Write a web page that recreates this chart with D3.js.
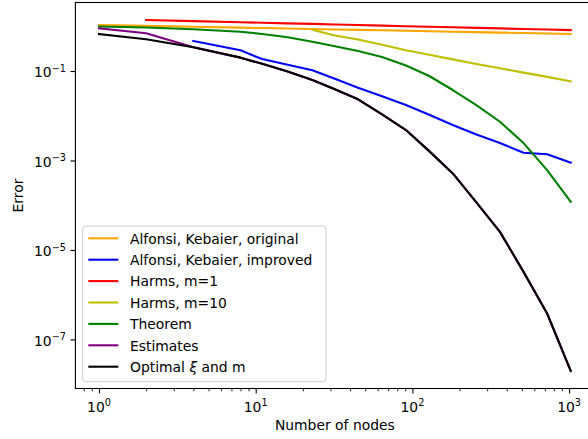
<!DOCTYPE html>
<html>
<head>
<meta charset="utf-8">
<style>
body { margin: 0; background: white; }
text { font-family: "DejaVu Sans", sans-serif; fill: black; }
.series { fill: none; stroke-width: 2.1px; stroke-linejoin: round; stroke-linecap: square; }
</style>
</head>
<body>
<script src="https://cdn.jsdelivr.net/npm/d3@7"></script>
<script>
// number of nodes (shared x grid), null = no point for that series
var nodes = [1, 2, 4, 8, 11, 16, 23, 32, 45, 64, 91, 128, 181, 256, 362, 512, 724, 1024];

var akOriginal = [1.07, 1.02, 0.976, 0.932, 0.913, 0.89, 0.869, 0.85, 0.831, 0.812, 0.793, 0.775, 0.757, 0.74, 0.723, 0.707, 0.69, 0.675];
var akImproved = [null, null, 0.469, 0.29, 0.185, 0.138, 0.104, 0.067, 0.0423, 0.0273, 0.0174, 0.0105, 0.0062, 0.0038, 0.00246, 0.00149, 0.00138, 0.00089];
var harms1 = [null, 1.38, 1.303, 1.23, 1.2, 1.161, 1.13, 1.096, 1.065, 1.035, 1.005, 0.977, 0.95, 0.922, 0.896, 0.871, 0.846, 0.822];
var harms10 = [null, null, null, null, null, null, 0.84, 0.62, 0.504, 0.385, 0.292, 0.232, 0.182, 0.144, 0.115, 0.092, 0.074, 0.059];
var theorem = [0.99, 0.94, 0.857, 0.757, 0.673, 0.568, 0.452, 0.359, 0.28, 0.206, 0.133, 0.0773, 0.0376, 0.0173, 0.00734, 0.00245, 0.00061, 0.00012];
var estimates = [0.90, 0.70, 0.339, 0.199, 0.145, 0.0975, 0.063, 0.039, 0.0233, 0.0107, 0.00479, 0.00162, 0.000514, 0.000116, 2.54e-5, 3.24e-6, 3.8e-7, 1.97e-8];
var optimal = [0.673, 0.512, 0.339, 0.199, 0.145, 0.0975, 0.063, 0.039, 0.0233, 0.0107, 0.00479, 0.00162, 0.000514, 0.000116, 2.54e-5, 3.24e-6, 3.8e-7, 1.97e-8];

var seriesNames = ["Alfonsi, Kebaier, original", "Alfonsi, Kebaier, improved", "Harms, m=1", "Harms, m=10", "Theorem", "Estimates", "Optimal"];
var seriesColors = ["orange", "#0000ff", "#ff0000", "#bfbf00", "#008000", "#800080", "#000000"];
var seriesValues = [akOriginal, akImproved, harms1, harms10, theorem, estimates, optimal];

var xMajor = [1, 10, 100, 1000];
var xExp = ["0", "1", "2", "3"];
var yMajor = [1e-7, 1e-5, 1e-3, 1e-1];
var yExp = ["\u22127", "\u22125", "\u22123", "\u22121"];

var width = 588, height = 439;
var plotLeft = 75.4, plotRight = 594.3, plotTop = 2.5, plotBottom = 388.5;

var svg = d3.select("body").append("svg")
    .attr("width", width)
    .attr("height", height);

var x = d3.scaleLog().domain([0.7071, 1448]).range([plotLeft, plotRight]);
var y = d3.scaleLog().domain([8.0e-9, 3.40]).range([plotBottom, plotTop]);

// lines
var line = d3.line()
    .x(function(d) { return x(d[0]); })
    .y(function(d) { return y(d[1]); });

seriesValues.forEach(function(vals, i) {
  var pts = nodes.map(function(n, j) { return [n, vals[j]]; })
    .filter(function(d) { return d[1] != null; });
  svg.append("path")
    .attr("class", "series")
    .attr("d", line(pts))
    .style("stroke", seriesColors[i]);
});

// x axis ticks
var xMinor = [];
[0.1, 1, 10, 100, 1000].forEach(function(dec) {
  for (var k = 2; k <= 9; k++) {
    var v = dec * k;
    if (v > 0.7071 && v < 1448) xMinor.push(v);
  }
});
svg.append("g")
  .attr("transform", "translate(0," + plotBottom + ")")
  .call(d3.axisBottom(x).tickValues(xMinor).tickSize(2.8).tickFormat(""))
  .call(function(g) {
    g.select(".domain").remove();
    g.selectAll("line").attr("stroke-width", 0.85);
  });
svg.append("g")
  .attr("transform", "translate(0," + plotBottom + ")")
  .call(d3.axisBottom(x).tickValues(xMajor).tickSize(4.9).tickFormat(""))
  .call(function(g) {
    g.select(".domain").remove();
    g.selectAll("line").attr("stroke-width", 1.1);
  });

xMajor.forEach(function(v, i) {
  var t = svg.append("text")
    .attr("x", x(v))
    .attr("y", 411.5)
    .attr("text-anchor", "middle")
    .style("font-size", "13.9px");
  t.append("tspan").text("10");
  t.append("tspan").attr("dy", -5.5).style("font-size", "9.7px").text(xExp[i]);
});

// y axis ticks
svg.append("g")
  .attr("transform", "translate(" + plotLeft + ",0)")
  .call(d3.axisLeft(y).tickValues(yMajor).tickSize(4.9).tickFormat(""))
  .call(function(g) {
    g.select(".domain").remove();
    g.selectAll("line").attr("stroke-width", 1.1);
  });

yMajor.forEach(function(v, i) {
  var t = svg.append("text")
    .attr("x", 66)
    .attr("y", y(v) + 6.3)
    .attr("text-anchor", "end")
    .style("font-size", "13.9px");
  t.append("tspan").text("10");
  t.append("tspan").attr("dy", -5.5).style("font-size", "9.7px").text(yExp[i]);
});

// frame
svg.append("rect")
  .attr("x", plotLeft).attr("y", plotTop)
  .attr("width", plotRight - plotLeft).attr("height", plotBottom - plotTop)
  .style("fill", "none").style("stroke", "black").style("stroke-width", 1.1);

// axis labels
svg.append("text")
  .attr("x", (plotLeft + plotRight) / 2)
  .attr("y", 430)
  .attr("text-anchor", "middle")
  .style("font-size", "13.9px")
  .text("Number of nodes");

svg.append("text")
  .attr("transform", "translate(22.5," + ((plotTop + plotBottom) / 2) + ") rotate(-90)")
  .attr("text-anchor", "middle")
  .style("font-size", "13.9px")
  .text("Error");

// legend
var leg = svg.append("g");
leg.append("rect")
  .attr("x", 82.7).attr("y", 226)
  .attr("width", 243.3).attr("height", 155.7)
  .attr("rx", 2.8).attr("ry", 2.8)
  .style("fill", "white").style("fill-opacity", 0.8)
  .style("stroke", "#cccccc").style("stroke-width", 1);

seriesNames.forEach(function(name, i) {
  var cy = 238.3 + i * 21.4;
  leg.append("line")
    .attr("x1", 88.3).attr("x2", 118.3)
    .attr("y1", cy).attr("y2", cy)
    .style("stroke", seriesColors[i]).style("stroke-width", 2.1);
  var t = leg.append("text")
    .attr("x", 130)
    .attr("y", cy + 5.3)
    .style("font-size", "13.9px");
  if (name == "Optimal") {
    t.append("tspan").text("Optimal ");
    t.append("tspan").style("font-style", "italic").text("\u03be");
    t.append("tspan").text(" and m");
  } else {
    t.text(name);
  }
});
</script>
</body>
</html>
